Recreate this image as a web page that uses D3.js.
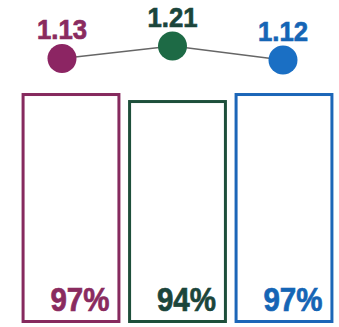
<!doctype html>
<html lang="en">
<head>
  <meta charset="utf-8">
  <title>Ratio and share</title>
  <script src="https://cdn.jsdelivr.net/npm/d3@7/dist/d3.min.js"></script>
</head>
<body>
<style>
html, body {
  margin: 0;
  padding: 0;
  background: #fff;
}
.chart text {
  font-family: "Liberation Sans", Arial, sans-serif;
  font-weight: bold;
  stroke-width: 0.7px;
}
</style>
<svg class="chart"></svg>
<script>
var groups = ["first", "second", "third"];
var ratios = [1.13, 1.21, 1.12];
var shares = [97, 94, 97];

// colours per group: stroke/dot, label text
var strokeColors = ["#862a5e", "#1e4f3b", "#1c66b8"];
var dotColors = ["#8c2563", "#1d6a45", "#1a6fc4"];
var textColors = ["#8a2b5f", "#1b453b", "#1565b5"];

var width = 339, height = 327;

var svg = d3.select(".chart")
  .attr("width", width)
  .attr("height", height);

// bars
var x = d3.scaleBand()
  .domain(groups)
  .range([17.75, 337.25])
  .paddingInner(0.1)
  .paddingOuter(0.05);

var y = d3.scaleLinear()
  .domain([0, 100])
  .range([321.5, 87.5]);

var bar = svg.selectAll("g.bar")
  .data(groups)
  .enter().append("g")
  .attr("class", "bar");

bar.append("rect")
  .attr("x", function(d) { return x(d); })
  .attr("y", function(d, i) { return y(shares[i]); })
  .attr("width", x.bandwidth())
  .attr("height", function(d, i) { return y(0) - y(shares[i]); })
  .attr("fill", "none")
  .attr("stroke", function(d, i) { return strokeColors[i]; })
  .attr("stroke-width", 3);

bar.append("text")
  .attr("x", function(d) { return x(d) + x.bandwidth() - 9.5; })
  .attr("y", y(0) - 10.5)
  .attr("text-anchor", "end")
  .attr("font-size", 33)
  .attr("textLength", 59)
  .attr("lengthAdjust", "spacingAndGlyphs")
  .attr("fill", function(d, i) { return textColors[i]; })
  .attr("stroke", function(d, i) { return textColors[i]; })
  .text(function(d, i) { return shares[i] + "%"; });

// ratio line with dots
var px = d3.scalePoint()
  .domain(groups)
  .range([62, 283]);

var ry = d3.scaleLinear()
  .domain([1.12, 1.21])
  .range([60, 46]);

var line = d3.line()
  .x(function(d) { return px(d); })
  .y(function(d, i) { return ry(ratios[i]); });

svg.append("path")
  .datum(groups)
  .attr("d", line)
  .attr("fill", "none")
  .attr("stroke", "#666")
  .attr("stroke-width", 1.5);

svg.selectAll("circle.dot")
  .data(groups)
  .enter().append("circle")
  .attr("class", "dot")
  .attr("cx", function(d) { return px(d); })
  .attr("cy", function(d, i) { return ry(ratios[i]); })
  .attr("r", 14.5)
  .attr("fill", function(d, i) { return dotColors[i]; });

svg.selectAll("text.ratio")
  .data(groups)
  .enter().append("text")
  .attr("class", "ratio")
  .attr("x", function(d) { return px(d); })
  .attr("y", function(d, i) { return ry(ratios[i]) - 19; })
  .attr("text-anchor", "middle")
  .attr("font-size", 28)
  .attr("textLength", 50)
  .attr("lengthAdjust", "spacingAndGlyphs")
  .attr("fill", function(d, i) { return textColors[i]; })
  .attr("stroke", function(d, i) { return textColors[i]; })
  .text(function(d, i) { return ratios[i].toFixed(2); });
</script>
</body>
</html>
